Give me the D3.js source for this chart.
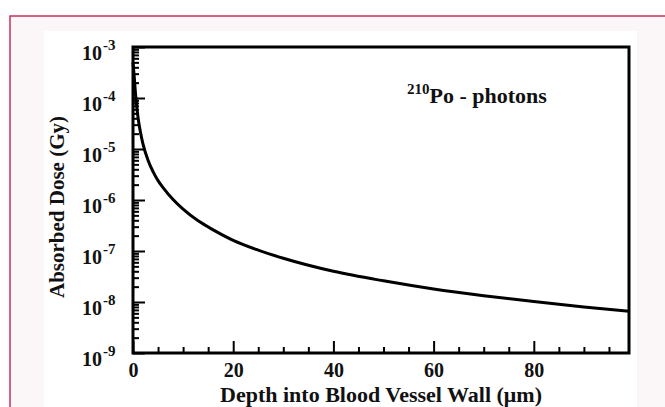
<!DOCTYPE html>
<html>
<head>
<meta charset="utf-8">
<script src="https://cdn.jsdelivr.net/npm/d3@7"></script>
<style>
  html, body { margin: 0; padding: 0; background: #fff; }
  svg text { font-family: "Liberation Serif", "Times New Roman", serif; font-weight: bold; fill: #111; }
</style>
</head>
<body>
<svg id="chart" width="665" height="407"></svg>
<script>
// data
var depth = [0, 0.25, 0.5, 1, 1.5, 2, 3, 4, 5, 6, 8, 10, 13, 16, 20, 25, 30, 40, 50, 60, 70, 80, 90, 99];
var dose  = [5e-4, 2.6e-4, 1.2e-4, 4.2e-5, 2.1e-5, 1.25e-5, 6.0e-6, 3.6e-6, 2.4e-6, 1.75e-6, 1.02e-6, 6.6e-7,
             3.9e-7, 2.6e-7, 1.62e-7, 1.04e-7, 7.2e-8, 4.0e-8, 2.6e-8, 1.8e-8, 1.33e-8, 1.02e-8, 8.0e-9, 6.6e-9];
var xMajor = [0, 20, 40, 60, 80];
var yExponents = [-3, -4, -5, -6, -7, -8, -9];

var svg = d3.select("#chart");

// page background + crimson frame like the source figure
svg.append("rect").attr("x", 10).attr("y", 16).attr("width", 660).attr("height", 400)
   .attr("fill", "#fbf7f9").attr("stroke", "#c8305a").attr("stroke-width", 1.5);
svg.append("rect").attr("x", 44).attr("y", 31).attr("width", 593).attr("height", 380)
   .attr("fill", "#ffffff");

var pLeft = 133, pRight = 629, pTop = 47, pBottom = 353;

var x = d3.scaleLinear().domain([0, 99]).range([pLeft, pRight]);
var y = d3.scaleLog().domain([1e-9, 1e-3]).range([pBottom, pTop]);

// minor ticks
var xMinor = d3.range(5, 99, 5).filter(function(d) { return d % 20 !== 0; });
var yMinor = [];
yExponents.slice(1).forEach(function(e) {
  for (var m = 2; m <= 9; m++) yMinor.push(m * Math.pow(10, e));
});

function styleTicks(g) {
  g.select(".domain").remove();
  g.selectAll("line").attr("stroke", "#000").attr("stroke-width", 2);
}

svg.append("g").attr("transform", "translate(0," + pBottom + ")")
   .call(d3.axisBottom(x).tickValues(xMinor).tickSize(-6).tickFormat(""))
   .call(styleTicks);
svg.append("g").attr("transform", "translate(0," + pBottom + ")")
   .call(d3.axisBottom(x).tickValues(xMajor).tickSize(-12).tickPadding(10).tickFormat(d3.format("d")))
   .call(styleTicks)
   .call(function(g) {
     g.selectAll("text").style("font-size", "20px").style("font-family", "Liberation Serif")
      .style("font-weight", "bold").attr("fill", "#111");
   });

svg.append("g").attr("transform", "translate(" + pLeft + ",0)")
   .call(d3.axisLeft(y).tickValues(yMinor).tickSize(-6).tickFormat(""))
   .call(styleTicks);
svg.append("g").attr("transform", "translate(" + pLeft + ",0)")
   .call(d3.axisLeft(y).tickValues(yExponents.map(function(e) { return Math.pow(10, e); })).tickSize(-12).tickFormat(""))
   .call(styleTicks);

// y tick labels 10^n
yExponents.forEach(function(e) {
  var v = y(Math.pow(10, e));
  svg.append("text").attr("x", 102).attr("y", v + 13)
     .attr("text-anchor", "end").attr("font-size", 20).text("10");
  svg.append("text").attr("x", 103).attr("y", v + 3)
     .attr("font-size", 15).text(e);
});

// curve
var line = d3.line().x(function(d, i) { return x(depth[i]); }).y(function(d) { return y(d); })
             .curve(d3.curveMonotoneX);
svg.append("path").datum(dose).attr("d", line)
   .attr("fill", "none").attr("stroke", "#000").attr("stroke-width", 3);

// frame
svg.append("rect").attr("x", pLeft).attr("y", pTop).attr("width", pRight - pLeft).attr("height", pBottom - pTop)
   .attr("fill", "none").attr("stroke", "#000").attr("stroke-width", 3);

// titles
svg.append("text").attr("x", (pLeft + pRight) / 2).attr("y", 402).attr("text-anchor", "middle")
   .attr("font-size", 22).text("Depth into Blood Vessel Wall (\u03bcm)");
svg.append("text").attr("transform", "translate(64,207) rotate(-90)").attr("text-anchor", "middle")
   .attr("font-size", 21).text("Absorbed Dose (Gy)");

// annotation
var ann = svg.append("text").attr("x", 407).attr("y", 103).attr("font-size", 22);
ann.append("tspan").attr("font-size", 15).attr("dy", -9).text("210");
ann.append("tspan").attr("dy", 9).text("Po - photons");
</script>
</body>
</html>
